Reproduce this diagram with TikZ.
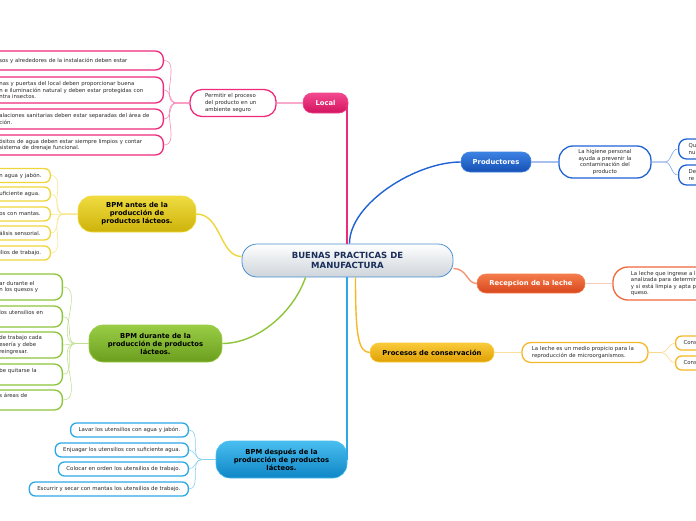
\documentclass[tikz,border=0pt]{standalone}
\usepackage{fontspec}
\setmainfont{DejaVu Sans}
\usetikzlibrary{positioning}
\definecolor{navy}{HTML}{1A2E5A}
\definecolor{leaftext}{HTML}{2A2A2A}
\definecolor{rootline}{HTML}{4A90D0}
\definecolor{rootgray}{HTML}{CDD4DA}
\definecolor{pinkc}{HTML}{EE2A7B}
\definecolor{pinkhi}{HTML}{F2488F}
\definecolor{pinklo}{HTML}{D3145F}
\definecolor{yellowc}{HTML}{EED63A}
\definecolor{yellowhi}{HTML}{F0DC40}
\definecolor{yellowlo}{HTML}{CDB20A}
\definecolor{greenc}{HTML}{8CC43A}
\definecolor{greenhi}{HTML}{9ACD45}
\definecolor{greenlo}{HTML}{6B9E1E}
\definecolor{cyanc}{HTML}{2CA8E6}
\definecolor{cyanhi}{HTML}{48BEF0}
\definecolor{cyanlo}{HTML}{0F86C6}
\definecolor{bluec}{HTML}{2062D4}
\definecolor{bluehi}{HTML}{3C82E2}
\definecolor{bluelo}{HTML}{1650B5}
\definecolor{orangec}{HTML}{F2673A}
\definecolor{orangehi}{HTML}{F47C4C}
\definecolor{orangelo}{HTML}{D8461C}
\definecolor{goldc}{HTML}{F5B829}
\definecolor{goldhi}{HTML}{F9CA3A}
\definecolor{goldlo}{HTML}{E0A004}
\tikzset{
  root/.style  ={draw=rootline, line width=0.8pt, rounded corners=15pt,
                 top color=white, bottom color=rootgray, text=navy,
                 font=\fontsize{8.5}{10.2}\selectfont\bfseries, align=center,
                 minimum width=211pt, minimum height=33pt, inner sep=0pt},
  topic/.style ={draw=#1hi, line width=0.6pt, rounded corners=9pt,
                 top color=#1hi, bottom color=#1lo, align=center,
                 font=\fontsize{6.8}{8}\selectfont\bfseries, inner sep=0pt},
  leaf/.style  ={draw=#1, line width=1.3pt, fill=white, rounded corners=6pt,
                 font=\fontsize{5.4}{6.6}\selectfont, text=leaftext,
                 inner xsep=8pt, inner ysep=2pt, minimum height=14pt, align=left},
  limb/.style  ={draw=#1, line width=1.4pt},
  twig/.style  ={draw=#1!55, line width=0.6pt}
}
\begin{document}
\begin{tikzpicture}[x=1pt,y=-1pt]
  \useasboundingbox (0,0) rectangle (696,520);
  \clip (0,0) rectangle (696,520);

  % centro
  \node[root] (root) at (347.5,260.5) {BUENAS PRACTICAS DE\\MANUFACTURA};

  % ramas principales
  \node[topic=pink, text=white, minimum width=45pt, minimum height=20pt] (local) at (325.5,103) {Local};
  \node[topic=yellow, text=black, minimum width=118pt, minimum height=36pt, rounded corners=14pt] (antes) at (137,214) {BPM antes de la\\producción de\\productos lácteos.};
  \node[topic=green, text=black, minimum width=133pt, minimum height=37pt, rounded corners=14pt] (durante) at (155.5,343.5) {BPM durante de la\\producción de productos\\lácteos.};
  \node[topic=cyan, text=black, minimum width=131pt, minimum height=37pt, rounded corners=14pt] (despues) at (281.5,459.5) {BPM después de la\\producción de productos\\lácteos.};
  \node[topic=blue, text=white, minimum width=70pt, minimum height=20pt] (prod) at (496,162) {Productores};
  \node[topic=orange, text=white, minimum width=108pt, minimum height=19pt] (recep) at (531,283.5) {Recepcion de la leche};
  \node[topic=gold, text=black, minimum width=124pt, minimum height=19pt] (procesos) at (432,352.5) {Procesos de conservación};

  % Local
  \node[leaf=pinkc, left=26pt of local, text width=56pt, inner xsep=15pt, minimum height=27pt, rounded corners=12pt] (permitir) {Permitir el proceso\\del producto en un\\ambiente seguro};
  \node[leaf=pinkc, anchor=east, text width=156pt, minimum height=19pt, rounded corners=8pt] (p1) at (164,60.5) {sos y alrededores de la instalación deben estar};
  \node[leaf=pinkc, anchor=east, text width=156pt, minimum height=26pt, rounded corners=8pt] (p2) at (164,90) {nas y puertas del local deben proporcionar buena\\n e iluminación natural y deben estar protegidas con\\ntra insectos.};
  \node[leaf=pinkc, anchor=east, text width=156pt, minimum height=20pt, rounded corners=8pt] (p3) at (164,119) {alaciones sanitarias deben estar separadas del área de\\ción.};
  \node[leaf=pinkc, anchor=east, text width=156pt, minimum height=20pt, rounded corners=8pt] (p4) at (164,145) {ósitos de agua deben estar siempre limpios y contar\\sistema de drenaje funcional.};

  % antes
  \node[leaf=yellowc, anchor=east, text width=43pt] (y1) at (51,175.5) {n agua y jabón.};
  \node[leaf=yellowc, anchor=east, text width=43pt] (y2) at (51,194) {uficiente agua.};
  \node[leaf=yellowc, anchor=east, text width=43pt] (y3) at (51,214) {os con mantas.};
  \node[leaf=yellowc, anchor=east, text width=43pt] (y4) at (51,233) {álisis sensorial.};
  \node[leaf=yellowc, anchor=east, text width=43pt] (y5) at (51,253) {ilios de trabajo.};

  % durante
  \node[leaf=greenc, anchor=east, text width=55pt, minimum height=26pt, rounded corners=8pt] (g1) at (63,287) {ar durante el\\n los quesos y};
  \node[leaf=greenc, anchor=east, text width=55pt, minimum height=21pt, rounded corners=8pt] (g2) at (63,316.5) {los utensilios en\\\strut};
  \node[leaf=greenc, anchor=east, text width=55pt, minimum height=26pt, rounded corners=8pt] (g3) at (63,345) {de trabajo cada\\esería y debe\\reingresar.};
  \node[leaf=greenc, anchor=east, text width=55pt, minimum height=21pt, rounded corners=8pt] (g4) at (63,374.5) {be quitarse la\\\strut};
  \node[leaf=greenc, anchor=east, text width=55pt, minimum height=20pt, rounded corners=8pt] (g5) at (63,400) {s áreas de\\\strut};

  % despues
  \node[leaf=cyanc, anchor=east] (d1) at (189,430) {Lavar los utensilios con agua y jabón.};
  \node[leaf=cyanc, anchor=east] (d2) at (189,450) {Enjuagar los utensilios con suficiente agua.};
  \node[leaf=cyanc, anchor=east] (d3) at (189,469) {Colocar en orden los utensilios de trabajo.};
  \node[leaf=cyanc, anchor=east] (d4) at (189,489) {Escurrir y secar con mantas los utensilios de trabajo.};

  % Productores
  \node[leaf=bluec, right=27pt of prod, text width=76pt, align=center, minimum height=32pt, rounded corners=14pt] (higiene) {La higiene personal\\ayuda a prevenir la\\contaminación del\\producto};
  \node[leaf=bluec, anchor=west, text width=60pt, inner xsep=10pt, minimum height=20pt, rounded corners=8pt] (q1) at (678,149) {Qu\\nu};
  \node[leaf=bluec, anchor=west, text width=60pt, inner xsep=10pt, minimum height=20pt, rounded corners=8pt] (q2) at (678,175) {De\\re};

  % Recepcion
  \node[leaf=orangec, right=27pt of recep, text width=110pt, inner xsep=18pt, minimum height=33pt, rounded corners=15pt] (rl) {La leche que ingrese a l\\analizada para determin\\y si está limpia y apta p\\queso.};

  % Procesos
  \node[leaf=goldc, right=27pt of procesos, text width=106pt, inner xsep=10pt, minimum height=20pt, rounded corners=9pt] (medio) {La leche es un medio propicio para la\\reproducción de microorganismos.};
  \node[leaf=goldc, anchor=west, text width=40pt] (c1) at (675,343) {Cons};
  \node[leaf=goldc, anchor=west, text width=40pt] (c2) at (675,363) {Cons};

  % conectores principales
  \draw[limb=pinkc] ([xshift=-0.6pt]root.north) -- ([xshift=-0.6pt]root.north |- local.east);
  \draw[limb=cyanc] ([xshift=-0.6pt]root.south) -- ([xshift=-0.6pt]root.south |- despues.east);
  \draw[limb=bluec] ([xshift=2pt]root.north) .. controls +(0,-40) and +(-45,0) .. (prod.west);
  \draw[limb=orangec!70] ([yshift=-8pt]root.east) .. controls +(14,0) and +(-10,0) .. (recep.west);
  \draw[limb=goldc] ([xshift=8pt]root.south) .. controls +(0,55) and +(-12,0) .. (procesos.west);
  \draw[limb=yellowc] ([yshift=4pt]root.west) .. controls +(-22,0) and +(25,0) .. (antes.east);
  \draw[limb=greenc] ([xshift=-42pt]root.south) .. controls +(-12,35) and +(35,0) .. (durante.east);

  % conectores de hojas
  \draw[limb=pinkc!40] (local.west) -- (permitir.east);
  \draw[limb=bluec!40] (prod.east) -- (higiene.west);
  \draw[limb=orangec!35] (recep.east) -- (rl.west);
  \draw[limb=goldc!45] (procesos.east) -- (medio.west);
  \foreach \hoja in {p1,p2,p3,p4}
    \draw[twig=pinkc] (permitir.west) -- ++(-13,0) to[out=180,in=0] (\hoja.east);
  \foreach \hoja in {y1,y2,y3,y4,y5}
    \draw[twig=yellowc] (antes.west) -- ++(-14,0) to[out=180,in=0] (\hoja.east);
  \foreach \hoja in {g1,g2,g3,g4,g5}
    \draw[twig=greenc] (durante.west) -- ++(-13,0) to[out=180,in=0] (\hoja.east);
  \foreach \hoja in {d1,d2,d3,d4}
    \draw[twig=cyanc] (despues.west) -- ++(-14,0) to[out=180,in=0] (\hoja.east);
  \foreach \hoja in {q1,q2}
    \draw[twig=bluec] (higiene.east) -- ++(13,0) to[out=0,in=180] (\hoja.west);
  \foreach \hoja in {c1,c2}
    \draw[twig=goldc] (medio.east) -- ++(13,0) to[out=0,in=180] (\hoja.west);
\end{tikzpicture}
\end{document}
